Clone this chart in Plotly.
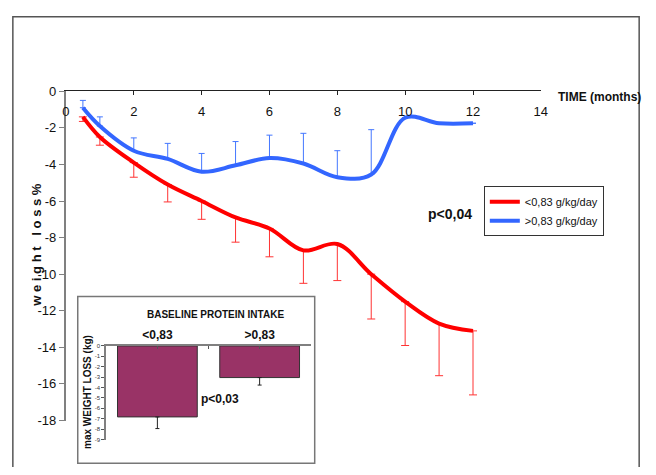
import plotly.graph_objects as go

W, H = 656, 475

# ---- main chart data: weight loss (%) over time ----
months = [0.5, 1, 2, 3, 4, 5, 6, 7, 8, 9, 10, 11, 12]

low_mean = [-1.4, -2.5, -3.9, -5.1, -6.0, -6.9, -7.5, -8.7, -8.35, -10.0, -11.5, -12.7, -13.1]
low_err_down = [0.25, 0.45, 0.8, 0.95, 1.0, 1.35, 1.55, 1.8, 2.0, 2.45, 2.4, 2.85, 3.5]

high_mean = [-0.9, -1.9, -3.25, -3.7, -4.4, -4.05, -3.65, -3.95, -4.7, -4.55, -1.45, -1.75, -1.75]
high_err_up = [0.4, 0.5, 0.7, 0.85, 1.0, 1.3, 1.25, 1.65, 1.45, 2.45, 0, 0, 0]

x_ticks = [0, 2, 4, 6, 8, 10, 12, 14]
y_ticks = [0, -2, -4, -6, -8, -10, -12, -14, -16, -18]
y_tick_text = ["0", "-2", "-4", "-6", "-8", "-10", "-12", "-14", "-16", "-18"]

# ---- inset data: max weight loss (kg) by baseline protein intake ----
intake_groups = ["<0,83", ">0,83"]
max_loss = [-6.82, -3.04]
max_loss_err = [1.12, 0.72]
inset_ticks = [0, -1, -2, -3, -4, -5, -6, -7, -8, -9]
inset_tick_text = ["0", "-1", "-2", "-3", "-4", "-5", "-6", "-7", "-8", "-9"]

FONT = "Liberation Sans, Arial, sans-serif"


def px(x):
    return x / W


def py(y):
    return 1 - y / H


def f(size, **kw):
    return dict(size=size, family=FONT, color="#111111", **kw)


fig = go.Figure()

fig.add_trace(go.Scatter(
    x=months, y=low_mean, mode="lines", name="<0,83 g/kg/day",
    line=dict(color="#FF0000", width=4, shape="spline", smoothing=1),
    error_y=dict(type="data", symmetric=False, array=[0] * len(months),
                 arrayminus=low_err_down, color="#FF3333", thickness=1, width=4),
    xaxis="x", yaxis="y",
))
fig.add_trace(go.Scatter(
    x=months, y=high_mean, mode="lines", name=">0,83 g/kg/day",
    line=dict(color="#3366FF", width=4, shape="spline", smoothing=1),
    error_y=dict(type="data", symmetric=False, array=high_err_up,
                 arrayminus=[0] * len(months), color="#4477FF", thickness=1, width=3),
    xaxis="x", yaxis="y",
))

# inset bar chart
fig.add_trace(go.Bar(
    x=list(range(len(intake_groups))), y=max_loss, width=0.78,
    marker=dict(color="#993366", line=dict(color="#333333", width=1)),
    error_y=dict(type="data", symmetric=False, array=[0, 0],
                 arrayminus=max_loss_err, color="#222222", thickness=1, width=2),
    showlegend=False, xaxis="x2", yaxis="y2",
))

# invisible trace that carries the time tick-label axis
fig.add_trace(go.Scatter(x=[0], y=[0], mode="markers", marker=dict(opacity=0),
                         showlegend=False, hoverinfo="skip", xaxis="x3", yaxis="y"))

fig.update_layout(
    width=W, height=H,
    margin=dict(l=0, r=0, t=0, b=0),
    paper_bgcolor="white", plot_bgcolor="rgba(0,0,0,0)",
    font=dict(family=FONT, color="#111111"),
    # time axis line along y = 0, ticks pointing down
    xaxis=dict(
        domain=[px(63), px(546)], range=[0, 14], anchor="y", side="top",
        tickvals=x_ticks, ticks="inside", ticklen=4, tickcolor="#222222",
        showticklabels=False,
        showline=True, linecolor="#222222", linewidth=1,
        showgrid=False, zeroline=False,
    ),
    # time tick labels, sitting just below the axis line
    xaxis3=dict(
        domain=[px(63), px(546)], range=[0, 14], overlaying="x",
        anchor="free", position=py(98), side="bottom",
        tickvals=x_ticks, ticks="", showline=False,
        showgrid=False, zeroline=False, tickfont=f(13),
    ),
    yaxis=dict(
        domain=[py(427), py(87)], range=[-18, 0], anchor="x",
        tickvals=y_ticks, ticktext=y_tick_text, ticks="outside", ticklen=5,
        tickcolor="#808080",
        showline=True, linecolor="#808080", linewidth=2,
        showgrid=False, zeroline=False, tickfont=f(13),
    ),
    xaxis2=dict(
        domain=[px(104), px(312)], range=[-0.5, 1.5], anchor="y2", side="top",
        tickvals=[0, 0.5, 1, 1.5], ticktext=[intake_groups[0], "", intake_groups[1], ""],
        ticks="inside", ticklen=3, tickcolor="#555555",
        showline=True, linecolor="#808080", linewidth=2,
        showgrid=False, zeroline=False,
        tickfont=f(12, weight="bold"),
    ),
    yaxis2=dict(
        domain=[py(446.7), py(350)], range=[-9, 0], anchor="x2",
        tickvals=inset_ticks, ticktext=inset_tick_text, ticks="outside", ticklen=3,
        tickcolor="#555555",
        showline=True, linecolor="#808080", linewidth=2,
        showgrid=False, zeroline=False,
        tickfont=dict(size=6, family=FONT, color="#333333"),
    ),
    legend=dict(
        x=px(488), y=py(185), xanchor="left", yanchor="top",
        bgcolor="white", bordercolor="#333333", borderwidth=1,
        font=f(11),
        itemwidth=30, tracegroupgap=0,
    ),
    showlegend=True,
)

# outer frame (open at the bottom edge) and inset frame
frame_path = "M {l},{b} L {l},{t} L {r},{t} L {r},{b}".format(
    l=px(9), r=px(646), t=py(10), b=py(475))
fig.add_shape(type="path", xref="paper", yref="paper", path=frame_path,
              line=dict(color="#555555", width=1.5), layer="below")
fig.add_shape(type="rect", xref="paper", yref="paper",
              x0=px(75), x1=px(316), y0=py(471), y1=py(299),
              line=dict(color="#777777", width=1.5), fillcolor="white", layer="below")

annotations = [
    dict(text="<b>TIME (months)</b>", x=px(561), y=py(93), xanchor="left", yanchor="middle",
         font=f(12)),
    dict(text="<b>w e i g h t   l o s s %</b>", x=px(33), y=py(245), textangle=-90,
         xanchor="center", yanchor="middle", font=f(13)),
    dict(text="<b>p<0,04</b>", x=px(429), y=py(214), xanchor="left", yanchor="middle",
         font=f(14)),
    dict(text="<b>BASELINE PROTEIN INTAKE</b>", x=px(215), y=py(318), xanchor="center",
         yanchor="middle", font=f(10)),
    dict(text="<b>max WEIGHT LOSS (kg)</b>", x=px(85), y=py(398), textangle=-90,
         xanchor="center", yanchor="middle", font=f(10)),
    dict(text="<b>p<0,03</b>", x=px(198), y=py(405), xanchor="left", yanchor="middle",
         font=f(12)),
]
for a in annotations:
    a.update(xref="paper", yref="paper", showarrow=False)
    fig.add_annotation(**a)

fig.write_html("out.html")
